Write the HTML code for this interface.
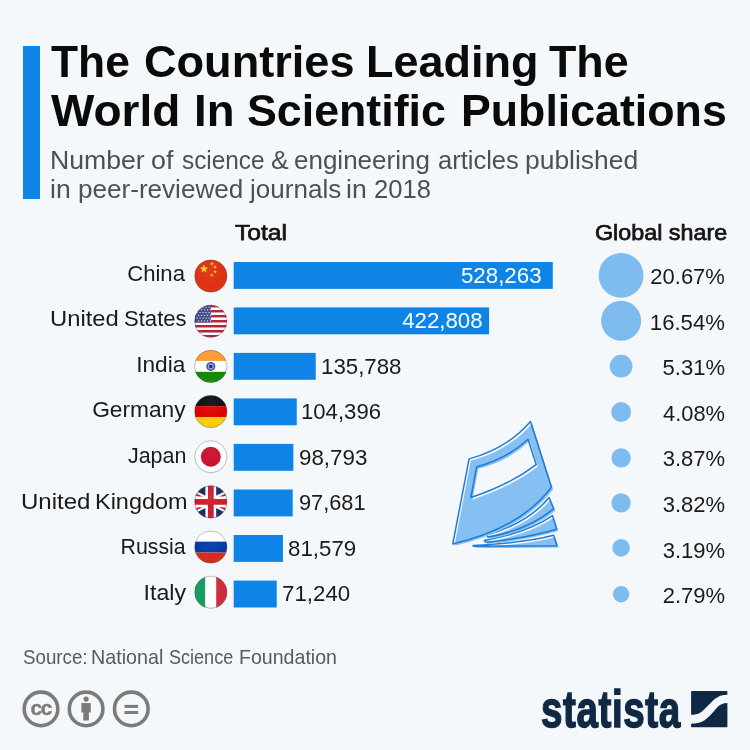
<!DOCTYPE html>
<html lang="en">
<head>
<meta charset="utf-8">
<title>The Countries Leading The World In Scientific Publications</title>
<style>
html,body{margin:0;padding:0;}
body{width:750px;height:750px;overflow:hidden;background:#f4f8fb;position:relative;font-family:"Liberation Sans",Arial,sans-serif;}
#chart{position:absolute;left:0;top:0;width:750px;height:750px;overflow:hidden;background:#f4f8fb;}
#gfx{position:absolute;left:0;top:0;}
.t{position:absolute;line-height:0;white-space:nowrap;margin:0;padding:0;color:#1c1c1c;font-weight:400;}
.line{margin:0;padding:0;font-size:0;font-weight:400;position:static;}
.title{font-weight:700;color:#0a0a0a;}
.sub{color:#4c5156;}
.head{font-weight:400;color:#151515;-webkit-text-stroke:0.75px #151515;}
.lab{color:#1a1a1a;}
.val{color:#1a1a1a;}
.val.in{color:#fff;}
.pct{color:#1a1a1a;}
.src{color:#555a5e;}
.logo{font-weight:700;color:#0f2944;-webkit-text-stroke:1.5px #0f2944;letter-spacing:0.8px;}
.accent{position:absolute;left:23.2px;top:46px;width:16.8px;height:152.8px;background:#0e85e6;}
.bar{position:absolute;background:#0e85e6;}
</style>
</head>
<body>
<div id="chart">
<div class="accent"></div>
<svg id="gfx" width="750" height="750" viewBox="0 0 750 750">
<rect class="bar" x="233.70" y="262.00" width="319.07" height="26.90" fill="#0e85e6"/>
<rect class="bar" x="233.70" y="307.40" width="255.38" height="26.90" fill="#0e85e6"/>
<rect class="bar" x="233.70" y="352.90" width="82.02" height="26.90" fill="#0e85e6"/>
<rect class="bar" x="233.70" y="398.40" width="63.06" height="26.90" fill="#0e85e6"/>
<rect class="bar" x="233.70" y="443.90" width="59.67" height="26.90" fill="#0e85e6"/>
<rect class="bar" x="233.70" y="489.50" width="59.00" height="26.90" fill="#0e85e6"/>
<rect class="bar" x="233.70" y="535.00" width="49.27" height="26.90" fill="#0e85e6"/>
<rect class="bar" x="233.70" y="580.60" width="43.03" height="26.90" fill="#0e85e6"/>
<circle cx="621.10" cy="275.40" r="22.40" fill="#7ebcf0"/>
<circle cx="621.10" cy="320.80" r="20.04" fill="#7ebcf0"/>
<circle cx="621.10" cy="366.20" r="11.35" fill="#7ebcf0"/>
<circle cx="621.10" cy="412.00" r="9.95" fill="#7ebcf0"/>
<circle cx="621.10" cy="457.90" r="9.69" fill="#7ebcf0"/>
<circle cx="621.10" cy="502.90" r="9.63" fill="#7ebcf0"/>
<circle cx="621.10" cy="547.90" r="8.80" fill="#7ebcf0"/>
<circle cx="621.10" cy="594.20" r="8.23" fill="#7ebcf0"/>
<defs>
<clipPath id="fc0"><circle cx="210.80" cy="276.05" r="16.30"/></clipPath>
<clipPath id="fc1"><circle cx="210.80" cy="321.22" r="16.30"/></clipPath>
<clipPath id="fc2"><circle cx="210.80" cy="366.39" r="16.30"/></clipPath>
<clipPath id="fc3"><circle cx="210.80" cy="411.56" r="16.30"/></clipPath>
<clipPath id="fc4"><circle cx="210.80" cy="456.73" r="16.30"/></clipPath>
<clipPath id="fc5"><circle cx="210.80" cy="501.90" r="16.30"/></clipPath>
<clipPath id="fc6"><circle cx="210.80" cy="547.07" r="16.30"/></clipPath>
<clipPath id="fc7"><circle cx="210.80" cy="592.24" r="16.30"/></clipPath>
<radialGradient id="gloss" cx="0.5" cy="0.35" r="0.75"><stop offset="0" stop-color="#fff" stop-opacity="0.06"/><stop offset="0.65" stop-color="#fff" stop-opacity="0"/><stop offset="1" stop-color="#000" stop-opacity="0.12"/></radialGradient>
</defs>
<g clip-path="url(#fc0)">
<rect x="194.50" y="259.75" width="32.60" height="32.60" fill="#de3012"/>
<polygon points="203.90,264.35 204.93,267.53 208.27,267.53 205.57,269.49 206.60,272.67 203.90,270.71 201.20,272.67 202.23,269.49 199.53,267.53 202.87,267.53" fill="#fad52a"/>
<polygon points="212.58,261.87 212.53,263.32 213.90,263.82 212.50,264.22 212.45,265.67 211.64,264.47 210.24,264.87 211.14,263.72 210.32,262.52 211.69,263.02" fill="#fad52a"/>
<polygon points="216.51,265.64 215.85,266.93 216.88,267.96 215.45,267.73 214.79,269.03 214.56,267.59 213.12,267.36 214.42,266.70 214.19,265.27 215.22,266.30" fill="#fad52a"/>
<polygon points="215.10,269.75 215.55,271.13 217.00,271.13 215.83,271.99 216.28,273.37 215.10,272.51 213.92,273.37 214.37,271.99 213.20,271.13 214.65,271.13" fill="#fad52a"/>
<polygon points="212.58,273.27 212.53,274.72 213.90,275.22 212.50,275.62 212.45,277.07 211.64,275.87 210.24,276.27 211.14,275.12 210.32,273.92 211.69,274.42" fill="#fad52a"/>
</g>
<g clip-path="url(#fc1)">
<rect x="194.50" y="304.92" width="32.60" height="32.60" fill="#fff"/>
<rect x="194.50" y="304.92" width="32.60" height="2.51" fill="#b22234"/>
<rect x="194.50" y="309.94" width="32.60" height="2.51" fill="#b22234"/>
<rect x="194.50" y="314.95" width="32.60" height="2.51" fill="#b22234"/>
<rect x="194.50" y="319.97" width="32.60" height="2.51" fill="#b22234"/>
<rect x="194.50" y="324.98" width="32.60" height="2.51" fill="#b22234"/>
<rect x="194.50" y="330.00" width="32.60" height="2.51" fill="#b22234"/>
<rect x="194.50" y="335.01" width="32.60" height="2.51" fill="#b22234"/>
<rect x="194.50" y="304.92" width="16.30" height="17.55" fill="#3d4887"/>
<circle cx="197.10" cy="307.12" r="0.65" fill="#fff"/>
<circle cx="200.10" cy="307.12" r="0.65" fill="#fff"/>
<circle cx="203.10" cy="307.12" r="0.65" fill="#fff"/>
<circle cx="206.10" cy="307.12" r="0.65" fill="#fff"/>
<circle cx="209.10" cy="307.12" r="0.65" fill="#fff"/>
<circle cx="198.60" cy="309.87" r="0.65" fill="#fff"/>
<circle cx="201.60" cy="309.87" r="0.65" fill="#fff"/>
<circle cx="204.60" cy="309.87" r="0.65" fill="#fff"/>
<circle cx="207.60" cy="309.87" r="0.65" fill="#fff"/>
<circle cx="210.60" cy="309.87" r="0.65" fill="#fff"/>
<circle cx="197.10" cy="312.62" r="0.65" fill="#fff"/>
<circle cx="200.10" cy="312.62" r="0.65" fill="#fff"/>
<circle cx="203.10" cy="312.62" r="0.65" fill="#fff"/>
<circle cx="206.10" cy="312.62" r="0.65" fill="#fff"/>
<circle cx="209.10" cy="312.62" r="0.65" fill="#fff"/>
<circle cx="198.60" cy="315.37" r="0.65" fill="#fff"/>
<circle cx="201.60" cy="315.37" r="0.65" fill="#fff"/>
<circle cx="204.60" cy="315.37" r="0.65" fill="#fff"/>
<circle cx="207.60" cy="315.37" r="0.65" fill="#fff"/>
<circle cx="210.60" cy="315.37" r="0.65" fill="#fff"/>
<circle cx="197.10" cy="318.12" r="0.65" fill="#fff"/>
<circle cx="200.10" cy="318.12" r="0.65" fill="#fff"/>
<circle cx="203.10" cy="318.12" r="0.65" fill="#fff"/>
<circle cx="206.10" cy="318.12" r="0.65" fill="#fff"/>
<circle cx="209.10" cy="318.12" r="0.65" fill="#fff"/>
<circle cx="198.60" cy="320.87" r="0.65" fill="#fff"/>
<circle cx="201.60" cy="320.87" r="0.65" fill="#fff"/>
<circle cx="204.60" cy="320.87" r="0.65" fill="#fff"/>
<circle cx="207.60" cy="320.87" r="0.65" fill="#fff"/>
<circle cx="210.60" cy="320.87" r="0.65" fill="#fff"/>
</g>
<g clip-path="url(#fc2)">
<rect x="194.50" y="350.09" width="32.60" height="10.87" fill="#ff9933"/>
<rect x="194.50" y="360.96" width="32.60" height="10.87" fill="#fff"/>
<rect x="194.50" y="371.82" width="32.60" height="10.87" fill="#138808"/>
<circle cx="210.80" cy="366.39" r="4.5" fill="#3443a8"/>
<circle cx="210.80" cy="366.39" r="3.1" fill="#8f9bdc"/>
<circle cx="210.80" cy="366.39" r="1.7" fill="#151c7a"/>
</g>
<g clip-path="url(#fc3)">
<rect x="194.50" y="395.26" width="32.60" height="10.87" fill="#111"/>
<rect x="194.50" y="406.13" width="32.60" height="10.87" fill="#dd0000"/>
<rect x="194.50" y="416.99" width="32.60" height="10.87" fill="#ffce00"/>
</g>
<g clip-path="url(#fc4)">
<rect x="194.50" y="440.43" width="32.60" height="32.60" fill="#fff"/>
<circle cx="210.80" cy="456.73" r="10" fill="#c8102e"/>
</g>
<g clip-path="url(#fc5)">
<rect x="194.50" y="485.60" width="32.60" height="32.60" fill="#1c2a66"/>
<path d="M178.20 485.60L243.40 518.20M243.40 485.60L178.20 518.20" stroke="#fff" stroke-width="6.2"/>
<path d="M178.20 485.60L243.40 518.20M243.40 485.60L178.20 518.20" stroke="#cf1b2b" stroke-width="2.1"/>
<path d="M210.80 485.60V518.20M194.50 501.90H227.10" stroke="#fff" stroke-width="10.8"/>
<path d="M210.80 485.60V518.20M194.50 501.90H227.10" stroke="#cf1b2b" stroke-width="5.8"/>
</g>
<g clip-path="url(#fc6)">
<rect x="194.50" y="530.77" width="32.60" height="10.87" fill="#fff"/>
<rect x="194.50" y="541.64" width="32.60" height="10.87" fill="#0039a6"/>
<rect x="194.50" y="552.50" width="32.60" height="10.87" fill="#d52b1e"/>
</g>
<g clip-path="url(#fc7)">
<rect x="194.50" y="575.94" width="10.87" height="32.60" fill="#169b62"/>
<rect x="205.37" y="575.94" width="10.87" height="32.60" fill="#fff"/>
<rect x="216.23" y="575.94" width="10.87" height="32.60" fill="#ce2b37"/>
</g>
<circle cx="210.80" cy="276.05" r="16.30" fill="url(#gloss)"/>
<circle cx="210.80" cy="276.05" r="16.10" fill="none" stroke="#55565a" stroke-opacity="0.55" stroke-width="0.7"/>
<circle cx="210.80" cy="321.22" r="16.30" fill="url(#gloss)"/>
<circle cx="210.80" cy="321.22" r="16.10" fill="none" stroke="#55565a" stroke-opacity="0.55" stroke-width="0.7"/>
<circle cx="210.80" cy="366.39" r="16.30" fill="url(#gloss)"/>
<circle cx="210.80" cy="366.39" r="16.10" fill="none" stroke="#55565a" stroke-opacity="0.55" stroke-width="0.7"/>
<circle cx="210.80" cy="411.56" r="16.30" fill="url(#gloss)"/>
<circle cx="210.80" cy="411.56" r="16.10" fill="none" stroke="#55565a" stroke-opacity="0.55" stroke-width="0.7"/>
<circle cx="210.80" cy="456.73" r="16.30" fill="url(#gloss)"/>
<circle cx="210.80" cy="456.73" r="16.10" fill="none" stroke="#55565a" stroke-opacity="0.55" stroke-width="0.7"/>
<circle cx="210.80" cy="501.90" r="16.30" fill="url(#gloss)"/>
<circle cx="210.80" cy="501.90" r="16.10" fill="none" stroke="#55565a" stroke-opacity="0.55" stroke-width="0.7"/>
<circle cx="210.80" cy="547.07" r="16.30" fill="url(#gloss)"/>
<circle cx="210.80" cy="547.07" r="16.10" fill="none" stroke="#55565a" stroke-opacity="0.55" stroke-width="0.7"/>
<circle cx="210.80" cy="592.24" r="16.30" fill="url(#gloss)"/>
<circle cx="210.80" cy="592.24" r="16.10" fill="none" stroke="#55565a" stroke-opacity="0.55" stroke-width="0.7"/>
<path d="M473.1 545.3 Q525.2 542.6 553.5 535.1 L556.9 545.5 L473.1 546.0 Z" fill="#86bff1" transform="translate(1.8,2.1)"/>
<path d="M473.1 545.3 Q525.2 542.6 553.5 535.1 L556.9 545.5 L473.1 546.0 Z" fill="none" stroke="#1f7bd6" stroke-width="1.5" stroke-linejoin="round" transform="translate(0.1,0.2)"/>
<path d="M484.4 540.3 Q527.5 532.4 552.4 515.4 L556.5 529.0 Q525.2 538.1 485.5 542.1 Z" fill="#86bff1" transform="translate(1.8,2.1)"/>
<path d="M484.4 540.3 Q527.5 532.4 552.4 515.4 L556.5 529.0 Q525.2 538.1 485.5 542.1 Z" fill="none" stroke="#1f7bd6" stroke-width="1.5" stroke-linejoin="round" transform="translate(0.1,0.2)"/>
<path d="M486.7 534.7 Q527.5 523.3 549.0 497.3 L553.5 508.6 Q527.5 530.1 487.8 536.9 Z" fill="#86bff1" transform="translate(1.8,2.1)"/>
<path d="M486.7 534.7 Q527.5 523.3 549.0 497.3 L553.5 508.6 Q527.5 530.1 487.8 536.9 Z" fill="none" stroke="#1f7bd6" stroke-width="1.5" stroke-linejoin="round" transform="translate(0.1,0.2)"/>
<path d="M530.4 421.3 Q507.1 448.5 469.0 458.7 L452.7 543.7 Q520.7 527.9 551.3 487.1 Z M476.5 466.7 Q507.1 458.7 527.9 439.0 L536.1 464.4 Q509.3 484.8 470.8 497.3 Z" fill="#86bff1" fill-rule="evenodd" transform="translate(1.8,2.1)"/>
<path d="M530.4 421.3 Q507.1 448.5 469.0 458.7 L452.7 543.7 Q520.7 527.9 551.3 487.1 Z M476.5 466.7 Q507.1 458.7 527.9 439.0 L536.1 464.4 Q509.3 484.8 470.8 497.3 Z" fill="none" stroke="#1f7bd6" stroke-width="1.5" stroke-linejoin="round" transform="translate(0.1,0.2)"/>
<circle cx="41.00" cy="708.90" r="16.8" fill="none" stroke="#7b7b7b" stroke-width="3.6"/>
<circle cx="86.10" cy="708.90" r="16.8" fill="none" stroke="#7b7b7b" stroke-width="3.6"/>
<circle cx="131.30" cy="708.90" r="16.8" fill="none" stroke="#7b7b7b" stroke-width="3.6"/>
<circle cx="86.10" cy="699.10" r="2.6" fill="#7b7b7b"/>
<path d="M81.40 702.90h9.4v9.6h-1.9v8h-5.6v-8h-1.9z" fill="#7b7b7b"/>
<rect x="124.50" y="704.90" width="13.6" height="3.0" fill="#7b7b7b"/>
<rect x="124.50" y="711.00" width="13.6" height="3.0" fill="#7b7b7b"/>
<g transform="translate(691.10,691.00)" fill="#0f2944"><path d="M0.8 0H35.5Q36.3 0 36.3 0.8V3.7C29 3.7 25 6.5 21 10.5C17 14.5 13 19 9.5 21.5C6.5 23.5 3 23.7 0 23.7V0.8Q0 0 0.8 0Z"/><path d="M36.3 12C32 12 28.5 13.5 25.5 17C22 21 18 26 13.5 29.2C9.5 32 4 32.7 0 32.7V35.5Q0 36.3 0.8 36.3H35.5Q36.3 36.3 36.3 35.5Z"/></g>
</svg>
<h1 class="line">
<span id="t1_0" class="t title" style="left:50.95px;top:62.00px;font-size:44.90px;transform:scaleX(0.9877);transform-origin:left center">The</span>
<span id="t1_1" class="t title" style="left:143.58px;top:62.00px;font-size:44.90px;transform:scaleX(1.0047);transform-origin:left center">Countries</span>
<span id="t1_2" class="t title" style="left:365.93px;top:62.00px;font-size:44.90px;transform:scaleX(1.0021);transform-origin:left center">Leading</span>
<span id="t1_3" class="t title" style="left:548.80px;top:62.00px;font-size:44.90px;transform:scaleX(0.9976);transform-origin:left center">The</span>
</h1>
<h1 class="line">
<span id="t2_0" class="t title" style="left:50.71px;top:111.00px;font-size:44.90px;transform:scaleX(1.0231);transform-origin:left center">World</span>
<span id="t2_1" class="t title" style="left:194.06px;top:111.00px;font-size:44.90px;transform:scaleX(1.0135);transform-origin:left center">In</span>
<span id="t2_2" class="t title" style="left:246.56px;top:111.00px;font-size:44.90px;transform:scaleX(0.9966);transform-origin:left center">Scientific</span>
<span id="t2_3" class="t title" style="left:461.06px;top:111.00px;font-size:44.90px;transform:scaleX(0.9957);transform-origin:left center">Publications</span>
</h1>
<h2 class="line">
<span id="s1_0" class="t sub" style="left:50.21px;top:160.00px;font-size:25.00px;transform:scaleX(1.0653);transform-origin:left center">Number</span>
<span id="s1_1" class="t sub" style="left:151.33px;top:160.00px;font-size:25.00px;transform:scaleX(1.0735);transform-origin:left center">of</span>
<span id="s1_2" class="t sub" style="left:181.83px;top:160.00px;font-size:25.00px;transform:scaleX(0.9745);transform-origin:left center">science</span>
<span id="s1_3" class="t sub" style="left:270.88px;top:160.00px;font-size:25.00px;transform:scaleX(1.0617);transform-origin:left center">&amp;</span>
<span id="s1_4" class="t sub" style="left:294.32px;top:160.00px;font-size:25.00px;transform:scaleX(1.0398);transform-origin:left center">engineering</span>
<span id="s1_5" class="t sub" style="left:437.84px;top:160.00px;font-size:25.00px;transform:scaleX(1.0191);transform-origin:left center">articles</span>
<span id="s1_6" class="t sub" style="left:525.07px;top:160.00px;font-size:25.00px;transform:scaleX(1.0575);transform-origin:left center">published</span>
</h2>
<h2 class="line">
<span id="s2_0" class="t sub" style="left:50.12px;top:189.00px;font-size:25.00px;transform:scaleX(1.0636);transform-origin:left center">in</span>
<span id="s2_1" class="t sub" style="left:78.38px;top:189.00px;font-size:25.00px;transform:scaleX(1.0431);transform-origin:left center">peer-reviewed</span>
<span id="s2_2" class="t sub" style="left:249.63px;top:189.00px;font-size:25.00px;transform:scaleX(1.0415);transform-origin:left center">journals</span>
<span id="s2_3" class="t sub" style="left:346.30px;top:189.00px;font-size:25.00px;transform:scaleX(1.0643);transform-origin:left center">in</span>
<span id="s2_4" class="t sub" style="left:373.93px;top:189.00px;font-size:25.00px;transform:scaleX(1.0239);transform-origin:left center">2018</span>
</h2>
<div id="h1" class="t head" style="left:235.05px;top:233.00px;font-size:22.20px;transform:scaleX(1.1105);transform-origin:left center">Total</div>
<div id="h2" class="t head" style="left:595.40px;top:233.00px;font-size:22.20px;transform:scaleX(1.0502);transform-origin:left center">Global share</div>
<div id="l0" class="t lab" style="right:564.83px;top:274.00px;font-size:21.80px;transform:scaleX(1.0141);transform-origin:right center">China</div>
<div id="v0" class="t val in" style="right:207.94px;top:276.00px;font-size:21.20px;transform:scaleX(1.0530);transform-origin:right center">528,263</div>
<div id="p0" class="t pct" style="right:25.35px;top:277.00px;font-size:21.20px;transform:scaleX(1.0372);transform-origin:right center">20.67%</div>
<div class="line">
<span id="l1_0" class="t lab" style="left:49.81px;top:319.00px;font-size:21.80px;transform:scaleX(1.0918);transform-origin:left center">United</span>
<span id="l1_1" class="t lab" style="left:123.65px;top:319.00px;font-size:21.80px;transform:scaleX(1.0136);transform-origin:left center">States</span>
</div>
<div id="v1" class="t val in" style="right:267.56px;top:321.00px;font-size:21.20px;transform:scaleX(1.0498);transform-origin:right center">422,808</div>
<div id="p1" class="t pct" style="right:25.24px;top:323.00px;font-size:21.20px;transform:scaleX(1.0436);transform-origin:right center">16.54%</div>
<div id="l2" class="t lab" style="right:564.53px;top:365.00px;font-size:21.80px;transform:scaleX(1.0388);transform-origin:right center">India</div>
<div id="v2" class="t val" style="left:320.76px;top:367.00px;font-size:21.20px;transform:scaleX(1.0511);transform-origin:left center">135,788</div>
<div id="p2" class="t pct" style="right:25.17px;top:368.00px;font-size:21.20px;transform:scaleX(1.0398);transform-origin:right center">5.31%</div>
<div id="l3" class="t lab" style="right:564.10px;top:410.00px;font-size:21.80px;transform:scaleX(1.0431);transform-origin:right center">Germany</div>
<div id="v3" class="t val" style="left:301.01px;top:412.00px;font-size:21.20px;transform:scaleX(1.0445);transform-origin:left center">104,396</div>
<div id="p3" class="t pct" style="right:24.91px;top:414.00px;font-size:21.20px;transform:scaleX(1.0326);transform-origin:right center">4.08%</div>
<div id="l4" class="t lab" style="right:563.46px;top:456.00px;font-size:21.80px;transform:scaleX(0.9849);transform-origin:right center">Japan</div>
<div id="v4" class="t val" style="left:299.39px;top:458.00px;font-size:21.20px;transform:scaleX(1.0550);transform-origin:left center">98,793</div>
<div id="p4" class="t pct" style="right:24.93px;top:459.00px;font-size:21.20px;transform:scaleX(1.0384);transform-origin:right center">3.87%</div>
<div class="line">
<span id="l5_0" class="t lab" style="left:20.76px;top:502.00px;font-size:21.80px;transform:scaleX(1.1011);transform-origin:left center">United</span>
<span id="l5_1" class="t lab" style="left:94.99px;top:502.00px;font-size:21.80px;transform:scaleX(1.0753);transform-origin:left center">Kingdom</span>
</div>
<div id="v5" class="t val" style="left:299.06px;top:503.00px;font-size:21.20px;transform:scaleX(1.0256);transform-origin:left center">97,681</div>
<div id="p5" class="t pct" style="right:24.93px;top:505.00px;font-size:21.20px;transform:scaleX(1.0384);transform-origin:right center">3.82%</div>
<div id="l6" class="t lab" style="right:564.87px;top:547.00px;font-size:21.80px;transform:scaleX(0.9763);transform-origin:right center">Russia</div>
<div id="v6" class="t val" style="left:288.41px;top:549.00px;font-size:21.20px;transform:scaleX(1.0519);transform-origin:left center">81,579</div>
<div id="p6" class="t pct" style="right:24.93px;top:551.00px;font-size:21.20px;transform:scaleX(1.0384);transform-origin:right center">3.19%</div>
<div id="l7" class="t lab" style="right:564.52px;top:593.00px;font-size:21.80px;transform:scaleX(1.0602);transform-origin:right center">Italy</div>
<div id="v7" class="t val" style="left:281.90px;top:594.00px;font-size:21.20px;transform:scaleX(1.0521);transform-origin:left center">71,240</div>
<div id="p7" class="t pct" style="right:24.75px;top:596.00px;font-size:21.20px;transform:scaleX(1.0395);transform-origin:right center">2.79%</div>
<p class="line">
<span id="src_0" class="t src" style="left:22.86px;top:657.00px;font-size:19.80px;transform:scaleX(0.9459);transform-origin:left center">Source:</span>
<span id="src_1" class="t src" style="left:91.14px;top:657.00px;font-size:19.80px;transform:scaleX(0.9970);transform-origin:left center">National</span>
<span id="src_2" class="t src" style="left:168.71px;top:657.00px;font-size:19.80px;transform:scaleX(0.9126);transform-origin:left center">Science</span>
<span id="src_3" class="t src" style="left:239.01px;top:657.00px;font-size:19.80px;transform:scaleX(0.9897);transform-origin:left center">Foundation</span>
</p>
<div id="logo" class="t logo" style="left:540.59px;top:709.00px;font-size:52.00px;transform:scaleX(0.7418);transform-origin:left center">statista</div>
<div id="cc" class="t" style="left:30.4px;top:708px;font-size:21px;font-weight:700;color:#7b7b7b;-webkit-text-stroke:0.4px #7b7b7b;letter-spacing:-1.2px">cc</div>
</div>
</body>
</html>
